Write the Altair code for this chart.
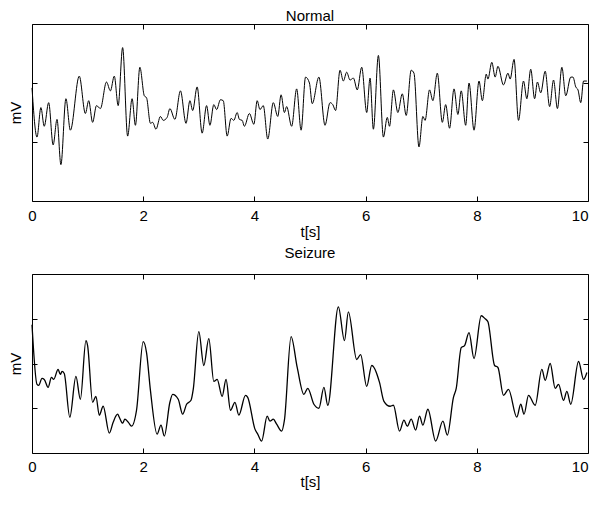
import altair as alt
import pandas as pd

# ---- Normal EEG (time in s, amplitude in arbitrary mV units) ----
normal_t = [0.00, 0.09, 0.16, 0.22, 0.30, 0.38, 0.45, 0.52, 0.61, 0.69, 0.85, 0.96, 1.02, 1.09, 1.16, 1.23,
            1.34, 1.41, 1.48, 1.55, 1.63, 1.72, 1.80, 1.86, 1.94, 2.02, 2.06, 2.13, 2.17, 2.23, 2.31, 2.36,
            2.43, 2.48, 2.57, 2.67, 2.77, 2.84, 2.89, 2.97, 3.06, 3.14, 3.20, 3.27, 3.32, 3.39, 3.44, 3.51,
            3.58, 3.63, 3.69, 3.73, 3.78, 3.82, 3.91, 3.99, 4.05, 4.10, 4.16, 4.24, 4.34, 4.42, 4.48, 4.54,
            4.58, 4.67, 4.76, 4.84, 4.92, 4.99, 5.04, 5.16, 5.27, 5.36, 5.41, 5.46, 5.54, 5.60, 5.66, 5.72,
            5.78, 5.85, 5.93, 6.02, 6.08, 6.14, 6.23, 6.32, 6.39, 6.43, 6.50, 6.58, 6.66, 6.73, 6.82, 6.87,
            6.96, 7.03, 7.07, 7.15, 7.21, 7.29, 7.38, 7.44, 7.51, 7.59, 7.66, 7.72, 7.80, 7.86, 7.95, 8.04,
            8.10, 8.17, 8.20, 8.27, 8.33, 8.38, 8.48, 8.56, 8.60, 8.67, 8.75, 8.84, 8.90, 8.97, 9.04, 9.09,
            9.15, 9.23, 9.31, 9.38, 9.45, 9.53, 9.60, 9.69, 9.73, 9.78, 9.82, 9.87, 9.92, 9.98]
normal_v = [25, -25, 5, -14, 10, -33, -7, -53, 14, -18, 37, -1, 12, -10, 7, 4,
            31, 22, 37, 7, 66, -24, 14, -13, 46, 17, 15, -11, -10, -17, -4, -8,
            -5, 4, -7, 22, -11, 12, 2, 26, -21, 7, -13, 8, 3, 13, 12, -24,
            -6, -8, 0, -7, -8, -14, -1, -12, 12, 3, 7, -27, 10, -4, 18, 0,
            6, -14, 24, -18, 36, 30, 9, 36, -13, 10, 8, 2, 43, 32, 41, 33,
            35, 23, 46, 0, 35, -17, 58, -25, -5, -14, 23, 0, 19, -3, 43, 40,
            -35, -4, -8, 23, 12, 40, -10, 8, -16, 24, -2, 22, -13, 30, -18, 32,
            12, 39, 34, 51, 36, 47, 28, 40, 34, 54, -8, 32, 14, 44, 14, 31,
            20, 42, 6, 33, 4, 46, 17, 36, 36, 26, 23, 10, 32, 32]

# ---- Seizure EEG ----
seizure_t = [0.00, 0.09, 0.12, 0.18, 0.22, 0.29, 0.35, 0.39, 0.47, 0.51, 0.54, 0.58, 0.68, 0.79, 0.87, 0.97,
             1.00, 1.09, 1.15, 1.21, 1.28, 1.39, 1.46, 1.54, 1.57, 1.63, 1.67, 1.73, 1.79, 1.88, 2.00, 2.06,
             2.13, 2.25, 2.32, 2.38, 2.48, 2.53, 2.63, 2.71, 2.78, 2.86, 2.90, 3.00, 3.09, 3.18, 3.27, 3.33,
             3.42, 3.49, 3.57, 3.65, 3.72, 3.84, 3.88, 4.01, 4.06, 4.13, 4.23, 4.28, 4.34, 4.40, 4.49, 4.54,
             4.66, 4.77, 4.89, 4.96, 5.07, 5.16, 5.25, 5.32, 5.51, 5.62, 5.69, 5.84, 5.91, 6.02, 6.11, 6.25,
             6.33, 6.44, 6.50, 6.61, 6.69, 6.75, 6.82, 6.90, 6.97, 7.03, 7.12, 7.26, 7.39, 7.47, 7.58, 7.63,
             7.72, 7.78, 7.86, 7.95, 8.08, 8.15, 8.20, 8.32, 8.38, 8.48, 8.57, 8.72, 8.79, 8.85, 8.93, 9.05,
             9.17, 9.23, 9.32, 9.41, 9.47, 9.56, 9.62, 9.69, 9.83, 9.92, 9.98]
seizure_v = [39, -21, -22, -15, -16, -24, -14, -16, -6, -11, -8, -10, -54, -13, -36, 23,
             18, -39, -33, -52, -43, -70, -59, -51, -54, -60, -56, -59, -63, -47, 22, 11,
             -27, -71, -62, -73, -39, -31, -36, -51, -41, -37, -26, 32, -2, 25, -18, -16,
             -33, -16, -47, -39, -52, -32, -34, -66, -71, -78, -53, -58, -56, -61, -68, -57,
             27, -4, -31, -25, -41, -45, -24, -42, 57, 23, 52, 4, 9, -23, -2, -19,
             -38, -43, -42, -68, -57, -63, -56, -67, -53, -62, -46, -78, -58, -72, -34, -25,
             16, 18, 31, 5, 48, 45, 42, -2, -4, -32, -26, -54, -41, -51, -32, -42,
             -6, -17, 0, -25, -21, -37, -28, -41, 2, -16, -9]

x_ticks = [0, 2, 4, 6, 8, 10]
normal_yticks = [-30, 30]
seizure_yticks = [-45, 0, 45]

FONT = "Liberation Sans"
W = 556


def panel(t, v, title, yticks, h, sw, title_offset, label_pad, title_pad):
    df = pd.DataFrame({"t": t, "v": v})
    xs = alt.Scale(domain=[0, 10], nice=False, zero=False)
    ys = alt.Scale(domain=[-90, 90], nice=False, zero=False)
    main = alt.Chart(df).mark_line(color="black", strokeWidth=sw, interpolate="monotone").encode(
        x=alt.X("t:Q", scale=xs, title="t[s]",
                axis=alt.Axis(orient="bottom", values=x_ticks, tickSize=5, offset=-5, domain=False,
                              grid=False, labelFlush=False,
                              labelAlign={"condition": {"test": "datum.value == 10", "value": "right"},
                                          "value": "center"},
                              labelPadding=label_pad, titlePadding=title_pad)),
        y=alt.Y("v:Q", scale=ys, title="mV",
                axis=alt.Axis(orient="left", values=yticks, tickSize=5, offset=-5, domain=False,
                              grid=False, labels=False, titlePadding=8)),
    )
    ghost = alt.Chart(df).mark_line(strokeOpacity=0).encode(
        x=alt.X("t:Q", scale=xs, title=None,
                axis=alt.Axis(orient="top", values=x_ticks, tickSize=5, offset=-5, domain=False,
                              grid=False, labels=False)),
        y=alt.Y("v:Q", scale=ys, title=None,
                axis=alt.Axis(orient="right", values=yticks, tickSize=5, offset=-5, domain=False,
                              grid=False, labels=False)),
    )
    return alt.layer(main, ghost).resolve_scale(x="independent", y="independent").properties(
        width=W, height=h,
        title=alt.TitleParams(title, fontSize=15, font=FONT, fontWeight="normal", color="black",
                              offset=title_offset),
    )


top = panel(normal_t, normal_v, "Normal", normal_yticks, 177, 1.0, 0, 7, 1)
bottom = panel(seizure_t, seizure_v, "Seizure", seizure_yticks, 179, 1.3, 13, 6, 0)

chart = alt.vconcat(top, bottom, spacing=5).properties(
    padding={"left": 0, "top": 0, "right": 0, "bottom": 0}
).configure_view(stroke="black", strokeWidth=1).configure_axis(
    tickColor="black", tickWidth=1, labelColor="black", titleColor="black",
    labelFont=FONT, titleFont=FONT, labelFontSize=15, titleFontSize=15, titleFontWeight="normal",
).configure_concat(spacing=5)

chart.save("out.html", embed_options={"renderer": "svg", "actions": False})
